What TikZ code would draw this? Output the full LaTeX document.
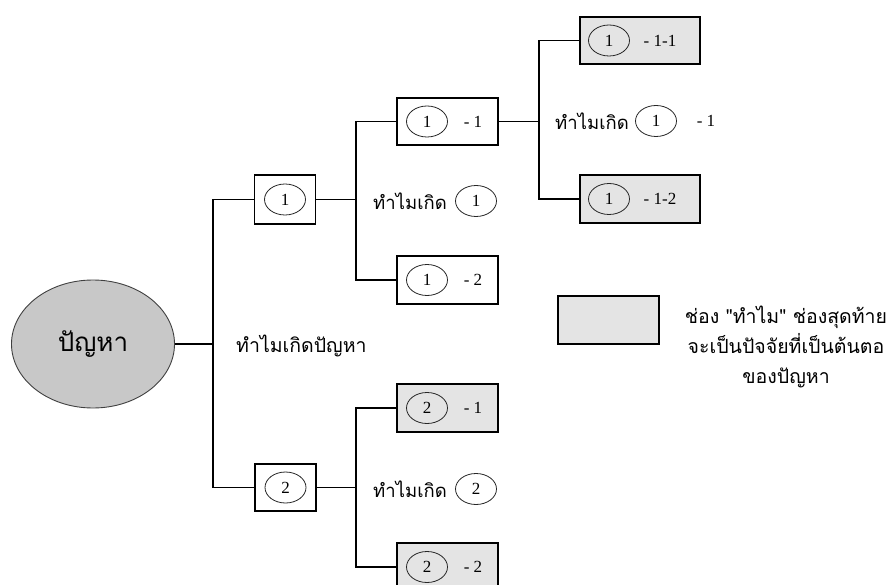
\documentclass[tikz,border=0pt]{standalone}
\usepackage{fontspec}
\setmainfont{Liberation Serif}
\newfontfamily\thaifont[Script=Thai]{Loma}
\usetikzlibrary{shapes.geometric}
\definecolor{ellfill}{RGB}{200,200,200}
\definecolor{boxfill}{RGB}{228,228,228}
\tikzset{
  conn/.style={draw=black, line width=1.1pt},
  whybox/.style={draw=black, line width=1.1pt, rectangle, inner sep=0pt},
  lastbox/.style={whybox, fill=boxfill},
  numcirc/.style={draw=black!85, ellipse, line width=0.8pt, minimum width=41pt, minimum height=31pt, inner sep=0pt, font=\fontsize{17}{19}\selectfont},
  dashtxt/.style={inner sep=0pt, font=\fontsize{17}{19}\selectfont},
  thtxt/.style={inner sep=0pt, font=\thaifont\fontsize{18.5}{22}\selectfont}
}
\begin{document}
\begin{tikzpicture}[x=1pt, y=-1pt]
\useasboundingbox (0,0) rectangle (893,585);
% root
\node[ellipse, draw=black!75, line width=0.9pt, fill=ellfill, minimum width=163pt, minimum height=128pt, inner sep=0pt,
      font=\thaifont\fontsize{26}{30}\selectfont] (prob) at (93,344) {ปัญหา};
% first level
\node[whybox, minimum width=61pt, minimum height=49pt] (b1) at (285,199.5) {};
\node[numcirc] (c1) at (285,199.5) {1};
\node[whybox, minimum width=61pt, minimum height=47pt] (b2) at (285.5,487.5) {};
\node[numcirc] (c2) at (285.5,487.5) {2};
% second level
\node[whybox, minimum width=101pt, minimum height=47pt] (b11) at (447.5,121.5) {};
\node[numcirc] (c11) at (427,121.5) {1};
\node[dashtxt] (t11) at (473,121.5) {- 1};
\node[whybox, minimum width=101pt, minimum height=48pt] (b12) at (447.5,280) {};
\node[numcirc] (c12) at (427,280) {1};
\node[dashtxt] (t12) at (473,280) {- 2};
\node[lastbox, minimum width=101pt, minimum height=48pt] (b21) at (447.5,408) {};
\node[numcirc] (c21) at (427,408) {2};
\node[dashtxt] (t21) at (473,408) {- 1};
\node[lastbox, minimum width=101pt, minimum height=48pt] (b22) at (447.5,567) {};
\node[numcirc] (c22) at (427,567) {2};
\node[dashtxt] (t22) at (473,567) {- 2};
% third level
\node[lastbox, minimum width=120pt, minimum height=47pt] (b111) at (640,40.5) {};
\node[numcirc] (c111) at (609,40.5) {1};
\node[dashtxt] (t111) at (660,40.5) {- 1-1};
\node[lastbox, minimum width=120pt, minimum height=48pt] (b112) at (640,199) {};
\node[numcirc] (c112) at (609,199) {1};
\node[dashtxt] (t112) at (660,199) {- 1-2};
% junctions
\coordinate (j0) at (213,344);
\coordinate (j1) at (356,199.5);
\coordinate (j2) at (539,121.5);
\coordinate (j3) at (356,487.5);
% connectors
\draw[conn] (prob.east) -- (j0);
\draw[conn] (b1.west) -| (j0) |- (b2.west);
\draw[conn] (b1.east) -- (j1);
\draw[conn] (b11.west) -| (j1) |- (b12.west);
\draw[conn] (b11.east) -- (j2);
\draw[conn] (b111.west) -| (j2) |- (b112.west);
\draw[conn] (b2.east) -- (j3);
\draw[conn] (b21.west) -| (j3) |- (b22.west);
% labels
\node[thtxt, anchor=west, font=\thaifont\fontsize{19.5}{22}\selectfont] (w0) at (236,346) {ทำไมเกิดปัญหา};
\node[thtxt, anchor=west] (w1) at (373,201) {ทำไมเกิด};
\node[numcirc] (w1c) at (476,201) {1};
\node[thtxt, anchor=west] (w11) at (555,121) {ทำไมเกิด};
\node[numcirc] (w11c) at (656,121) {1};
\node[dashtxt] (w11t) at (706,121) {- 1};
\node[thtxt, anchor=west] (w2) at (373,489) {ทำไมเกิด};
\node[numcirc] (w2c) at (476,489) {2};
% legend
\node[lastbox, minimum width=101pt, minimum height=48pt] (leg) at (608.5,320) {};
\node[thtxt, align=center, font=\thaifont\fontsize{19.5}{30}\selectfont] (legt) at (786,347)
  {ช่อง "ทำไม" ช่องสุดท้าย\\จะเป็นปัจจัยที่เป็นต้นตอ\\ของปัญหา};
\end{tikzpicture}
\end{document}
